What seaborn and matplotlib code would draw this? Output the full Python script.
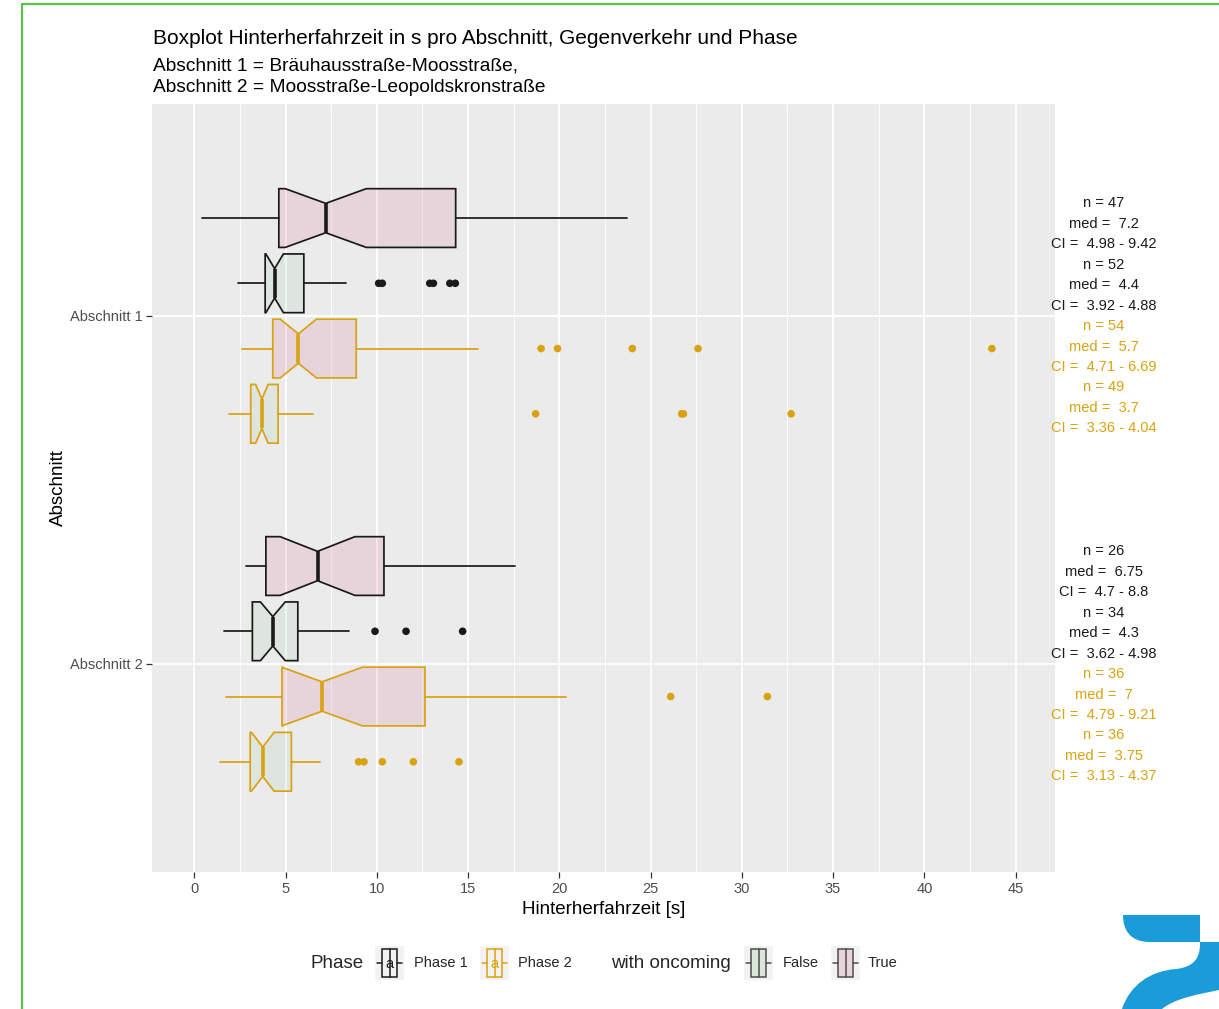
import numpy as np
import pandas as pd
import seaborn as sns
import matplotlib
matplotlib.use("Agg")
import matplotlib.pyplot as plt
from matplotlib.patches import Rectangle, PathPatch
from matplotlib.path import Path
from matplotlib.lines import Line2D

# ---------------------------------------------------------------------------
# Summary statistics of the "Hinterherfahrzeit" per Abschnitt / Phase / oncoming
# order inside each Abschnitt: (Phase 1, True), (Phase 1, False),
#                              (Phase 2, True), (Phase 2, False)
# ---------------------------------------------------------------------------
abschnitte = ["Abschnitt 1", "Abschnitt 2"]
phase = ["Phase 1", "Phase 1", "Phase 2", "Phase 2",
         "Phase 1", "Phase 1", "Phase 2", "Phase 2"]
oncoming = [True, False, True, False, True, False, True, False]

n_obs = [47, 52, 54, 49, 26, 34, 36, 36]
median = [7.2, 4.4, 5.7, 3.7, 6.75, 4.3, 7.0, 3.75]
ci_low = [4.98, 3.92, 4.71, 3.36, 4.7, 3.62, 4.79, 3.13]
ci_high = [9.42, 4.88, 6.69, 4.04, 8.8, 4.98, 9.21, 4.37]
q1 = [4.63, 3.88, 4.30, 3.09, 3.92, 3.18, 4.80, 3.06]
q3 = [14.32, 6.00, 8.87, 4.59, 10.39, 5.67, 12.64, 5.32]
whisker_low = [0.42, 2.40, 2.60, 1.92, 2.83, 1.63, 1.74, 1.43]
whisker_high = [23.69, 8.29, 15.57, 6.48, 17.56, 8.47, 20.38, 6.90]
outliers = [
    [],
    [10.1, 10.3, 12.9, 13.1, 14.0, 14.3],
    [19.0, 19.9, 24.0, 27.6, 43.7],
    [18.7, 26.7, 26.8, 32.7],
    [],
    [9.9, 11.6, 14.7],
    [26.1, 31.4],
    [9.0, 9.3, 10.3, 12.0, 14.5],
]

x_ticks = [0, 5, 10, 15, 20, 25, 30, 35, 40, 45]

# ---------------------------------------------------------------------------
# styling
# ---------------------------------------------------------------------------
sns.set_theme(style="darkgrid", rc={
    "axes.facecolor": "#EBEBEB",
    "grid.color": "white",
    "axes.edgecolor": "#EBEBEB",
})
plt.rcParams["font.family"] = ["Liberation Sans", "DejaVu Sans"]

GOLD = "#D8A212"
DARK = "#1A1A1A"
phase_color = {"Phase 1": DARK, "Phase 2": GOLD}
fill_color = {True: (0.80, 0.20, 0.40, 0.12), False: (0.55, 0.75, 0.55, 0.13)}

W, H = 1219, 1009
fig = plt.figure(figsize=(W / 100, H / 100), dpi=100)
fig.patch.set_facecolor("white")


def fx(px):
    return px / W


def fy(py):
    return 1 - py / H


ax = fig.add_axes([fx(152), fy(872), fx(1055) - fx(152), fy(104) - fy(872)])

summary = pd.DataFrame({
    "Abschnitt": [abschnitte[i // 4] for i in range(8)],
    "Phase": phase,
    "oncoming": oncoming,
    "n": n_obs, "med": median, "cilo": ci_low, "cihi": ci_high,
    "q1": q1, "q3": q3, "whislo": whisker_low, "whishi": whisker_high,
})

# dodge layout: 4 boxes per Abschnitt within 0.75 of a category slot
n_slots = 4
slot_w = 0.75 / n_slots
offsets = (np.arange(n_slots) - (n_slots - 1) / 2) * slot_w
box_w = slot_w * 0.9
summary["pos"] = [abschnitte.index(a) + offsets[i % 4]
                  for i, a in enumerate(summary["Abschnitt"])]

for i, row in summary.iterrows():
    ec = phase_color[row["Phase"]]
    stats = [dict(med=row["med"], q1=row["q1"], q3=row["q3"],
                  whislo=row["whislo"], whishi=row["whishi"],
                  cilo=row["cilo"], cihi=row["cihi"], fliers=[])]
    ax.bxp(stats, positions=[row["pos"]], widths=box_w,
           orientation="horizontal", shownotches=True, patch_artist=True,
           showcaps=False, showfliers=False, manage_ticks=False,
           boxprops=dict(facecolor=fill_color[row["oncoming"]], edgecolor=ec,
                         linewidth=1.25),
           whiskerprops=dict(color=ec, linewidth=1.25),
           medianprops=dict(color=ec, linewidth=2.6, solid_capstyle="butt"),
           zorder=3)

# outlying observations
flier_df = pd.DataFrame(
    [(v, summary.loc[i, "pos"], summary.loc[i, "Phase"])
     for i, vals in enumerate(outliers) for v in vals],
    columns=["value", "pos", "Phase"])
sns.scatterplot(data=flier_df, x="value", y="pos", hue="Phase",
                palette=phase_color, s=30, edgecolor="none", legend=False,
                ax=ax, zorder=4)

# axes, ticks, grid
ax.set_xticks(x_ticks)
ax.set_xticks([t + 2.5 for t in x_ticks[:-1]], minor=True)
ax.set_xticklabels([str(t) for t in x_ticks])
ax.set_yticks(range(len(abschnitte)))
ax.set_yticklabels(abschnitte)
ax.set_xlim(-2.32, 47.16)
ax.set_ylim(1.598, -0.609)
ax.grid(which="major", color="white", linewidth=1.3)
ax.grid(which="minor", axis="x", color="white", linewidth=0.6)
ax.tick_params(axis="both", which="major", length=4, width=0.9, color="#333333",
               labelsize=10.5, labelcolor="#4D4D4D", pad=3, bottom=True, left=True)
ax.tick_params(which="minor", length=0)
for s in ax.spines.values():
    s.set_visible(False)
ax.set_xlabel("Hinterherfahrzeit [s]", fontsize=13.5, color="black", labelpad=4)
ax.set_ylabel("Abschnitt", fontsize=13.5, color="black", labelpad=2)

# per-box annotations: n, median and notch interval
line_step = 20.45 / 348
for i, row in summary.iterrows():
    g = abschnitte.index(row["Abschnitt"])
    k = i % 4
    lines = [f"n = {row['n']}", f"med =  {row['med']:g}",
             f"CI =  {row['cilo']:g} - {row['cihi']:g}"]
    for j, txt in enumerate(lines):
        y = g + (3 * k + j - 5.5) * line_step
        ax.text(49.85, y, txt, ha="center", va="center", fontsize=10.5,
                color=phase_color[row["Phase"]], clip_on=False)

# titles
fig.text(fx(153), fy(38), "Boxplot Hinterherfahrzeit in s pro Abschnitt, Gegenverkehr und Phase",
         fontsize=15, ha="left", va="center", color="black")
fig.text(fx(153), fy(66), "Abschnitt 1 = Bräuhausstraße-Moosstraße,",
         fontsize=13.75, ha="left", va="center", color="black")
fig.text(fx(153), fy(87), "Abschnitt 2 = Moosstraße-Leopoldskronstraße",
         fontsize=13.75, ha="left", va="center", color="black")

# ---------------------------------------------------------------------------
# legend (drawn as key glyphs + labels)
# ---------------------------------------------------------------------------
LEG_Y = 963


def key(x0, edge, face, letter=None):
    kax = fig.add_axes([fx(x0), fy(LEG_Y + 17), 29 / W, 34 / H])
    kax.set_xlim(0, 1)
    kax.set_ylim(0, 1)
    kax.set_facecolor("#F2F2F2")
    kax.set_xticks([])
    kax.set_yticks([])
    kax.grid(False)
    for s in kax.spines.values():
        s.set_visible(False)
    kax.add_patch(Rectangle((0.24, 0.1), 0.52, 0.8, facecolor=face,
                            edgecolor=edge, linewidth=1.1))
    kax.plot([0.5, 0.5], [0.1, 0.9], color=edge, lw=1.1)
    kax.plot([0.06, 0.24], [0.5, 0.5], color=edge, lw=1.1)
    kax.plot([0.76, 0.94], [0.5, 0.5], color=edge, lw=1.1)
    if letter:
        kax.text(0.5, 0.47, letter, ha="center", va="center", fontsize=10.5,
                 color=edge)


fig.text(fx(310), fy(LEG_Y), "Phase", fontsize=13.5, ha="left", va="center")
key(375, DARK, "none", "a")
fig.text(fx(414), fy(LEG_Y), "Phase 1", fontsize=10.5, ha="left", va="center")
key(480, GOLD, "none", "a")
fig.text(fx(518), fy(LEG_Y), "Phase 2", fontsize=10.5, ha="left", va="center")
fig.text(fx(611), fy(LEG_Y), "with oncoming", fontsize=13.5, ha="left", va="center")
key(744, "#4D4D4D", (0.85, 0.90, 0.85))
fig.text(fx(783), fy(LEG_Y), "False", fontsize=10.5, ha="left", va="center")
key(831, "#4D4D4D", (0.91, 0.83, 0.86))
fig.text(fx(868), fy(LEG_Y), "True", fontsize=10.5, ha="left", va="center")

# green frame
fig.add_artist(Line2D([fx(22), fx(22), fx(W)], [fy(H), fy(4), fy(4)],
                      color="#5CBF4C", linewidth=1.6, transform=fig.transFigure))

# corner logo
BLUE = "#1B9BD7"
top_piece = [((1123, 915), Path.MOVETO), ((1200, 915), Path.LINETO),
             ((1200, 942), Path.LINETO), ((1150, 942), Path.LINETO),
             ((1130, 942), Path.CURVE4), ((1123, 930), Path.CURVE4),
             ((1123, 915), Path.CURVE4), ((1123, 915), Path.CLOSEPOLY)]
low_piece = [((1200, 942), Path.MOVETO), ((1219, 942), Path.LINETO),
             ((1219, 990), Path.LINETO),
             ((1200, 994), Path.CURVE4), ((1175, 998), Path.CURVE4),
             ((1162, 1009), Path.CURVE4),
             ((1122, 1009), Path.LINETO),
             ((1130, 985), Path.CURVE4), ((1150, 971), Path.CURVE4),
             ((1176, 969), Path.CURVE4),
             ((1194, 967), Path.CURVE4), ((1200, 958), Path.CURVE4),
             ((1200, 944), Path.CURVE4),
             ((1200, 942), Path.CLOSEPOLY)]
for piece in (top_piece, low_piece):
    verts = [(fx(x), fy(y)) for (x, y), _ in piece]
    codes = [c for _, c in piece]
    fig.add_artist(PathPatch(Path(verts, codes), facecolor=BLUE,
                             edgecolor="none", transform=fig.transFigure))

fig.savefig("out.png", dpi=100)
